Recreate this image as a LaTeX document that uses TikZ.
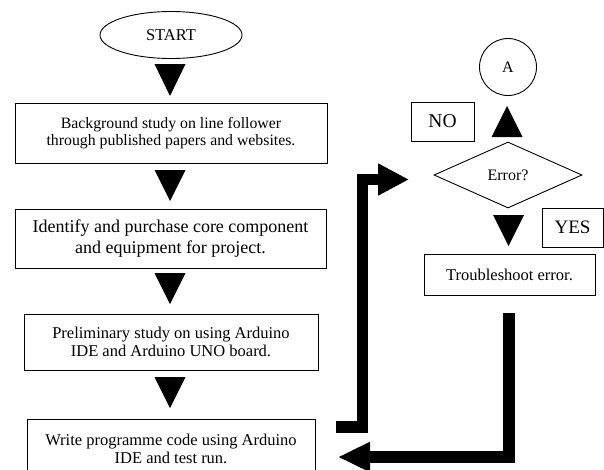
\documentclass[tikz,border=0pt]{standalone}
\usepackage{fontspec}
\setmainfont{Liberation Serif}
\usetikzlibrary{shapes.geometric,arrows.meta}
\tikzset{
  procbox/.style={draw, line width=0.9pt, align=center, inner sep=0pt,
    font=\fontsize{16.5}{18.5}\selectfont},
  tri/.style={fill=black},
  thick arrow/.style={line width=11.5pt, line join=miter, line cap=butt},
}
\begin{document}
\begin{tikzpicture}[x=1pt,y=-1pt]
\useasboundingbox (0,0) rectangle (604,469);
\clip (0,0) rectangle (604,469);
% left column
\node[draw, ellipse, line width=0.9pt, minimum width=142pt, minimum height=47pt, inner sep=0pt,
  font=\fontsize{16.5}{19}\selectfont] (start) at (171,35) {START};
\fill[tri] (154.5,64) -- (185.5,64) -- (170,96) -- cycle;
\node[procbox, minimum width=312pt, minimum height=60pt, font=\fontsize{15.8}{17.5}\selectfont] (b1) at (171,133)
  {Background study on line follower\\through published papers and websites.};
\fill[tri] (154.5,170) -- (185.5,170) -- (170,201) -- cycle;
\node[procbox, minimum width=311pt, minimum height=59pt, font=\fontsize{18}{20.5}\selectfont] (b2) at (170.5,238.5)
  {Identify and purchase core component\\and equipment for project.};
\fill[tri] (154.5,273) -- (185.5,273) -- (170,304) -- cycle;
\node[procbox, minimum width=294pt, minimum height=56pt] (b3) at (171,342)
  {Preliminary study on using Arduino\\IDE and Arduino UNO board.};
\fill[tri] (154.5,377) -- (185.5,377) -- (170,408) -- cycle;
\node[procbox, minimum width=288pt, minimum height=60pt] (b4) at (171,449)
  {Write programme code using Arduino\\IDE and test run.};
% right column
\node[draw, circle, line width=0.9pt, minimum size=57pt, inner sep=0pt,
  font=\fontsize{16}{19}\selectfont] (a) at (508,67) {A};
\node[procbox, minimum width=63pt, minimum height=39pt, font=\fontsize{19.5}{22}\selectfont] (no) at (442.5,121.5) {NO};
\fill[tri] (491.5,137) -- (522.5,137) -- (507,106) -- cycle;
\node[draw, diamond, line width=0.9pt, minimum width=148pt, minimum height=66pt, inner sep=0pt,
  font=\fontsize{16}{19}\selectfont] (err) at (508,175) {Error?};
\fill[tri] (493,215) -- (524,215) -- (508.5,246) -- cycle;
\node[procbox, minimum width=61pt, minimum height=39pt, font=\fontsize{19}{22}\selectfont] (yes) at (572.5,227.5) {YES};
\node[procbox, minimum width=171pt, minimum height=41pt] (tr) at (509.5,274.5) {Troubleshoot error.};
% thick connectors
\coordinate (l0) at (336,427);
\coordinate (l1) at (362.5,427);
\coordinate (l2) at (362.5,179.5);
\coordinate (l3) at (409,179.5);
\draw[thick arrow, -{Triangle[length=31pt,width=30pt]}] (l0) -- (l1) -- (l2) -- (l3);
\coordinate (r0) at (509,313);
\coordinate (r1) at (509,457);
\coordinate (r2) at (338,457);
\draw[thick arrow, -{Triangle[length=32pt,width=28pt]}] (r0) -- (r1) -- (r2);
\end{tikzpicture}
\end{document}
